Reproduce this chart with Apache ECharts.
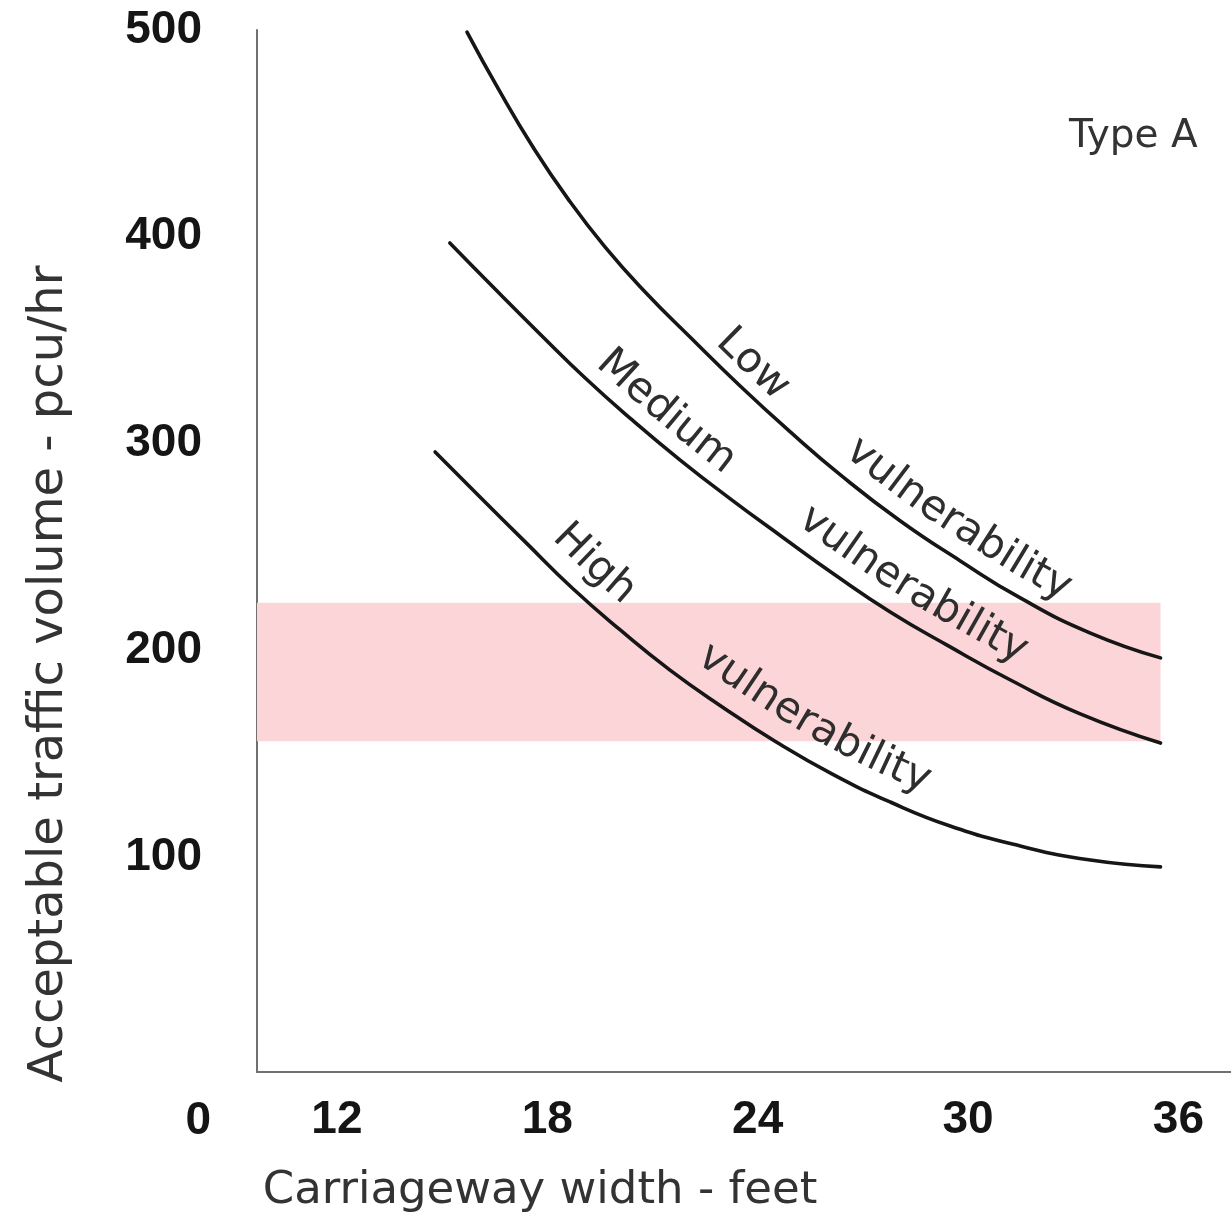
<!DOCTYPE html>
<html>
<head>
<meta charset="utf-8">
<script src="https://cdn.jsdelivr.net/npm/echarts@6/dist/echarts.min.js"></script>
<style>
html,body{margin:0;padding:0;background:#ffffff;}
#c{width:1231px;height:1217px;}
</style>
</head>
<body>
<div id="c"></div>
<script>
// ---------------- data ----------------
const xTickValues = [12, 18, 24, 30, 36];
const yTickValues = [0, 100, 200, 300, 400, 500];

const lowX = [15.71, 16.62, 17.59, 18.59, 19.65, 20.79, 22.07, 23.50, 24.93, 26.36, 28.07, 29.78, 31.49, 33.49, 35.49];
const lowY = [499.0, 471.0, 443.4, 418.3, 395.0, 373.3, 351.5, 327.8, 305.6, 284.8, 262.5, 243.2, 225.3, 208.3, 196.3];

const mediumX = [15.22, 16.51, 17.79, 19.08, 20.42, 21.79, 23.22, 24.70, 26.21, 27.78, 29.44, 31.21, 33.20, 35.49];
const mediumY = [397.0, 374.7, 353.0, 331.7, 311.4, 292.0, 273.2, 254.8, 236.4, 218.5, 202.1, 185.6, 169.2, 155.1];

const highX = [14.80, 16.08, 17.37, 18.71, 20.08, 21.50, 22.99, 24.53, 26.13, 27.78, 29.49, 31.49, 33.49, 35.49];
const highY = [295.9, 274.1, 252.4, 230.1, 209.8, 190.4, 172.6, 155.6, 140.1, 126.6, 115.0, 105.3, 98.5, 95.2];

const bandX = [9.72, 35.49];
const bandY = [156, 223];

const titleText = 'Type A';
const xName = 'Carriageway width - feet';
const yName = 'Acceptable traffic volume - pcu/hr';

// ---------------- chart ----------------
const pair = (xs, ys) => xs.map((x, i) => [x, ys[i]]);
const tickFont = '"Liberation Sans",Arial,sans-serif';
const textFont = '"DejaVu Sans",sans-serif';

const curveStyle = { color: '#161616', width: 3.6, cap: 'round', join: 'round' };

const option = {
  animation: false,
  backgroundColor: '#ffffff',
  title: {
    text: titleText, left: 1064, top: 112,
    textStyle: { fontFamily: textFont, fontSize: 39, fontWeight: 'normal', color: '#333' }
  },
  grid: { left: 257, right: 0, top: 30, bottom: 145, outerBoundsMode: 'none', containLabel: false },
  xAxis: {
    type: 'value', min: 9.72, max: 37.5,
    name: xName, nameLocation: 'middle', nameGap: 97,
    nameTextStyle: { fontFamily: textFont, fontSize: 45, color: '#333', padding: [0, 408, 0, 0] },
    axisLine: { show: true, onZero: false, lineStyle: { color: '#707070', width: 2 } },
    axisTick: { show: false },
    splitLine: { show: false },
    axisLabel: {
      customValues: xTickValues, margin: 25,
      fontFamily: tickFont, fontWeight: 'bold', fontSize: 46, color: '#151515'
    }
  },
  yAxis: {
    type: 'value', min: -4, max: 500,
    name: yName, nameLocation: 'middle', nameGap: 183, nameRotate: 90,
    nameTextStyle: { fontFamily: textFont, fontSize: 48, color: '#333', padding: [0, 246, 0, 0] },
    axisLine: { show: true, onZero: false, lineStyle: { color: '#707070', width: 2 } },
    axisTick: { show: false },
    splitLine: { show: false },
    axisLabel: {
      customValues: yTickValues, margin: 55,
      fontFamily: tickFont, fontWeight: 'bold', fontSize: 46, color: '#151515',
      formatter: v => (v === 0 ? '{z|0}' : String(v)),
      rich: { z: { fontFamily: tickFont, fontWeight: 'bold', fontSize: 46, color: '#151515', padding: [116, -9, 0, 0] } }
    }
  },
  series: [
    {
      name: 'band', type: 'line', data: [], z: 1, silent: true,
      markArea: {
        silent: true,
        itemStyle: { color: 'rgb(252,213,216)' },
        data: [[{ coord: [bandX[0], bandY[0]] }, { coord: [bandX[1], bandY[1]] }]]
      }
    },
    { name: 'Low', type: 'line', data: pair(lowX, lowY), smooth: 0.5, symbol: 'none', lineStyle: curveStyle, z: 3 },
    { name: 'Medium', type: 'line', data: pair(mediumX, mediumY), smooth: 0.5, symbol: 'none', lineStyle: curveStyle, z: 3 },
    { name: 'High', type: 'line', data: pair(highX, highY), smooth: 0.5, symbol: 'none', lineStyle: curveStyle, z: 3 }
  ]
};

const chart = echarts.init(document.getElementById('c'), null, { renderer: 'canvas' });
chart.setOption(option);

// ---------------- curve annotations (text follows the curves) ----------------
const curveLabels = [
  { xs: lowX, ys: lowY, text: 'Low', at: 23.27, offset: 24 },
  { xs: lowX, ys: lowY, text: 'vulnerability', at: 29.1, offset: 29 },
  { xs: mediumX, ys: mediumY, text: 'Medium', at: 20.82, offset: 27 },
  { xs: mediumX, ys: mediumY, text: 'vulnerability', at: 27.8, offset: 30 },
  { xs: highX, ys: highY, text: 'High', at: 18.7, offset: 32 },
  { xs: highX, ys: highY, text: 'vulnerability', at: 25.0, offset: 33 }
];
const labelFontSize = 42;

const measureCtx = document.createElement('canvas').getContext('2d');
measureCtx.font = labelFontSize + 'px "DejaVu Sans"';

function buildCurveText(cfg) {
  const pts = cfg.xs.map((x, i) => chart.convertToPixel({ gridIndex: 0 }, [x, cfg.ys[i]]));
  const dense = [];
  for (let i = 0; i < pts.length - 1; i++) {
    const p0 = pts[Math.max(0, i - 1)], p1 = pts[i], p2 = pts[i + 1], p3 = pts[Math.min(pts.length - 1, i + 2)];
    for (let k = 0; k < 12; k++) {
      const t = k / 12, t2 = t * t, t3 = t2 * t;
      const f = (a, b, c, d) => 0.5 * ((2 * b) + (-a + c) * t + (2 * a - 5 * b + 4 * c - d) * t2 + (-a + 3 * b - 3 * c + d) * t3);
      dense.push([f(p0[0], p1[0], p2[0], p3[0]), f(p0[1], p1[1], p2[1], p3[1])]);
    }
  }
  dense.push(pts[pts.length - 1]);
  const off = dense.map((p, i) => {
    const a = dense[Math.max(0, i - 3)], b = dense[Math.min(dense.length - 1, i + 3)];
    let tx = b[0] - a[0], ty = b[1] - a[1];
    const l = Math.hypot(tx, ty) || 1; tx /= l; ty /= l;
    return [p[0] + ty * cfg.offset, p[1] - tx * cfg.offset];
  });
  const cum = [0];
  for (let i = 1; i < off.length; i++) cum.push(cum[i - 1] + Math.hypot(off[i][0] - off[i - 1][0], off[i][1] - off[i - 1][1]));
  const targetPx = chart.convertToPixel({ gridIndex: 0 }, [cfg.at, 0])[0];
  let idx = dense.findIndex(p => p[0] >= targetPx);
  if (idx < 0) idx = dense.length - 1;
  const s0 = cum[idx];
  const pointAt = s => {
    s = Math.max(0, Math.min(cum[cum.length - 1], s));
    let j = 1;
    while (j < cum.length - 1 && cum[j] < s) j++;
    const seg = cum[j] - cum[j - 1] || 1, u = (s - cum[j - 1]) / seg;
    return [off[j - 1][0] + (off[j][0] - off[j - 1][0]) * u, off[j - 1][1] + (off[j][1] - off[j - 1][1]) * u];
  };
  const chars = cfg.text.split('');
  const widths = chars.map(ch => measureCtx.measureText(ch).width);
  const total = widths.reduce((a, b) => a + b, 0);
  let s = s0 - total / 2;
  const els = [];
  chars.forEach((ch, i) => {
    const sc = s + widths[i] / 2;
    const p = pointAt(sc), pa = pointAt(sc - 12), pb = pointAt(sc + 12);
    const ang = Math.atan2(pb[1] - pa[1], pb[0] - pa[0]);
    els.push({
      type: 'text', x: p[0], y: p[1], rotation: -ang, silent: true, z: 10,
      style: {
        text: ch, fontSize: labelFontSize, fontFamily: 'DejaVu Sans', fill: '#2e2e2e',
        align: 'center', verticalAlign: 'middle', textAlign: 'center', textVerticalAlign: 'middle'
      }
    });
    s += widths[i];
  });
  return els;
}

const graphicEls = [];
curveLabels.forEach(cfg => graphicEls.push(...buildCurveText(cfg)));
chart.setOption({ graphic: graphicEls });
</script>
</body>
</html>
